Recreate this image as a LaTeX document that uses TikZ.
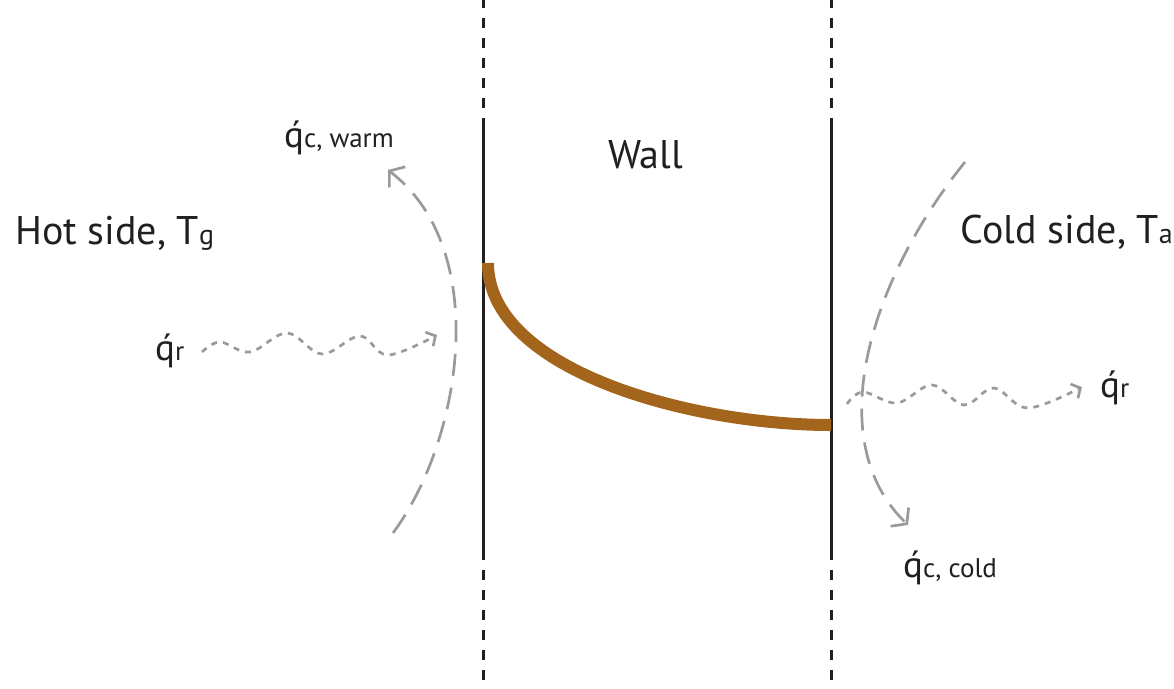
\documentclass[tikz,border=0pt]{standalone}
\usepackage{fontspec}
\setmainfont{PT Sans}
\usetikzlibrary{arrows.meta}
\definecolor{wallc}{HTML}{231F20}
\definecolor{flowc}{HTML}{9A9A9A}
\definecolor{brownc}{HTML}{A3651B}
\newcommand{\mainsz}{\fontsize{40}{48}\selectfont}
\newcommand{\mainsub}{\fontsize{28}{32}\selectfont}
\newcommand{\qsz}{\fontsize{37}{42}\selectfont}
\newcommand{\qsub}{\fontsize{27}{30}\selectfont}
\tikzset{
  wallline/.style={line width=3pt, draw=wallc},
  walldash/.style={wallline, dash pattern=on 10pt off 10pt, dash phase=2pt},
  conv/.style={line width=2.7pt, draw=flowc, dash pattern=on 22pt off 12pt,
    -{Straight Barb[length=10pt,width=26pt,line width=2.7pt]}},
  rad/.style={line width=2.7pt, draw=flowc, dash pattern=on 6pt off 6pt,
    -{Straight Barb[length=7pt,width=16pt,line width=2.7pt]}},
  lbl/.style={inner sep=0pt, anchor=base west, text=wallc},
}
\begin{document}
\begin{tikzpicture}[x=1pt,y=-1pt]
\useasboundingbox (0,0) rectangle (1174,688);
% wall boundaries
\coordinate (lt) at (483,0);
\coordinate (lu) at (483,125);
\coordinate (ll) at (483,552);
\coordinate (lb) at (483,688);
\coordinate (rt) at (831,0);
\coordinate (ru) at (831,125);
\coordinate (rl) at (831,552);
\coordinate (rb) at (831,688);
\draw[walldash] (lt) -- (lu);
\draw[wallline] (lu) -- (ll);
\draw[walldash] (ll) -- (lb);
\draw[walldash] (rt) -- (ru);
\draw[wallline] (ru) -- (rl);
\draw[walldash] (rl) -- (rb);
% temperature profile
\coordinate (ts) at (488,263);
\coordinate (te) at (831,425);
\draw[draw=brownc, line width=12pt] (ts) .. controls (488,370) and (690,425) .. (te);
% labels
\node[lbl] (hot) at (15,244) {\mainsz Hot side, T{\mainsub g}};
\node[lbl] (wall) at (608,168) {\mainsz Wall};
\node[lbl, anchor=base east] (cold) at (1173,243) {\mainsz Cold side, T{\mainsub a}};
\node[lbl] (qcw) at (284,147) {\qsz \'{q}{\qsub c, warm}};
\node[lbl] (qrl) at (155,360) {\qsz \'{q}{\qsub r}};
\node[lbl] (qrr) at (1100,397) {\qsz \'{q}{\qsub r}};
\node[lbl] (qcc) at (903,577) {\qsz \'{q}{\qsub c, cold}};
% convection arcs
\coordinate (cw0) at (393,533);
\coordinate (cw1) at (388,170);
\draw[conv] (cw0) .. controls (462,440) and (492,250) .. (cw1);
\coordinate (cc0) at (965,162);
\coordinate (cc1) at (908,525);
\draw[conv] (cc0) .. controls (870,280) and (820,440) .. (cc1);
% radiation
\coordinate (rl0) at (202,352);
\coordinate (rl1) at (437,335);
\draw[rad] plot[smooth, tension=0.6] coordinates {(rl0) (220,342) (250,352) (287,333) (322,354) (360,336) (388,355) (rl1)};
\coordinate (rr0) at (847,404);
\coordinate (rr1) at (1082,387);
\draw[rad] plot[smooth, tension=0.6] coordinates {(rr0) (863,392) (897,403) (932,385) (964,405) (994,388) (1028,408) (rr1)};
\end{tikzpicture}
\end{document}
